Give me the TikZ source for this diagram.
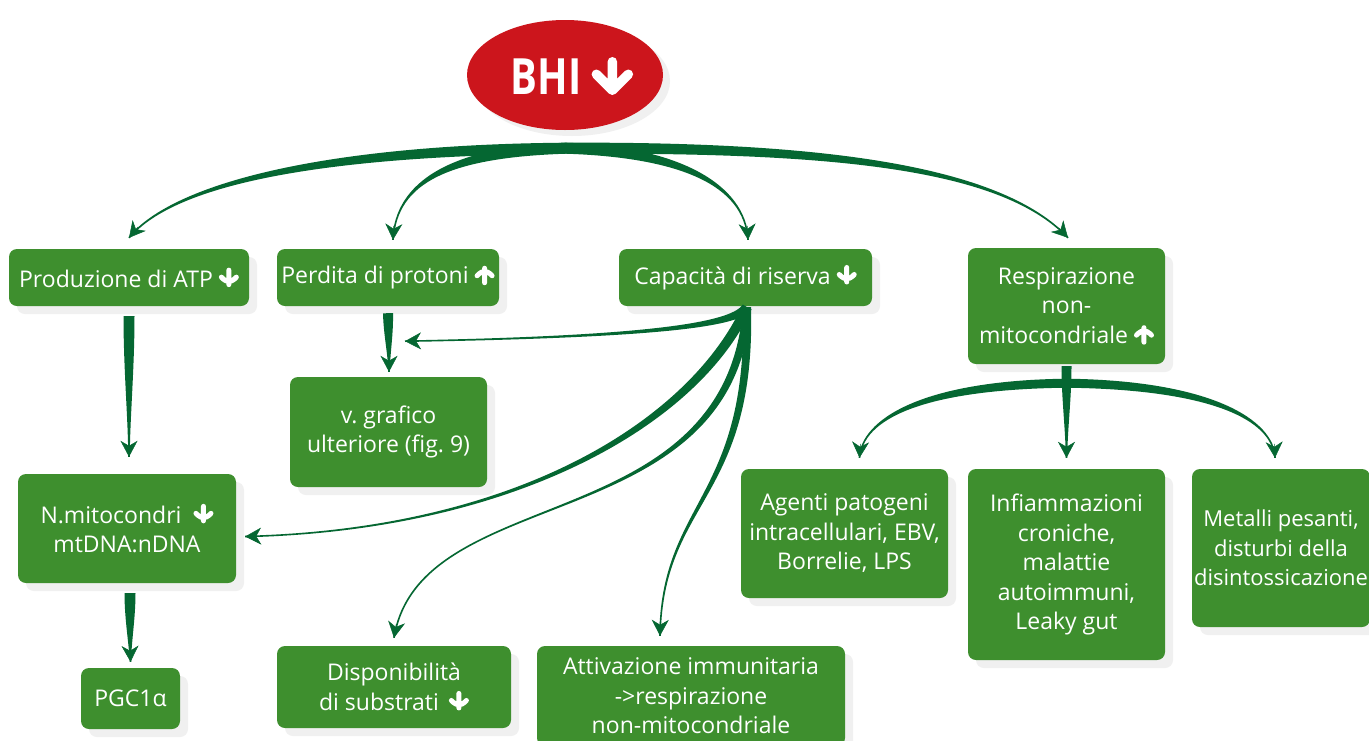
\documentclass[tikz,border=0pt]{standalone}
\usepackage{fontspec}
\setmainfont{Open Sans}
\usetikzlibrary{calc,arrows.meta,shadows,shapes.geometric}
\frenchspacing

\definecolor{arrgreen}{RGB}{5,103,50}
\definecolor{boxgreen}{RGB}{62,143,46}
\definecolor{bhired}{RGB}{204,21,28}
\definecolor{shadowgray}{RGB}{240,240,240}

\newcommand\arrdn{\tikz[baseline=0pt,x=1pt,y=1pt]\draw[white,line width=5pt,line cap=round,line join=round] (0,17)--(0,2.5) (-7.5,10)--(0,2.5)--(7.5,10);}
\newcommand\arrup{\tikz[baseline=0pt,x=1pt,y=1pt]\draw[white,line width=5pt,line cap=round,line join=round] (0,1)--(0,15.5) (-7.5,8)--(0,15.5)--(7.5,8);}
\newcommand\bigarrdn{\tikz[baseline=0pt,x=1pt,y=1pt]\draw[white,line width=9.5pt,line cap=round,line join=round] (0,33)--(0,4.5) (-16,20.5)--(0,4.5)--(16,20.5);}

% tapered arrow: #1 half width, #2 start, #3 c1, #4 c2, #5 end (tip point)
\newcommand\taper[5]{%
  \coordinate (tpS) at #2;
  \coordinate (tpA) at #3;
  \coordinate (tpB) at #4;
  \coordinate (tpE) at #5;
  \fill[arrgreen] ($(tpS)!#1!90:(tpA)$) .. controls ($(tpA)!#1!-90:(tpS)$) and ($(tpB)!0.8pt!90:(tpE)$)
     .. ($(tpE)!0.8pt!-90:(tpB)$) -- ($(tpE)!0.8pt!90:(tpB)$)
     .. controls ($(tpB)!0.8pt!-90:(tpE)$) and ($(tpA)!#1!90:(tpS)$) .. ($(tpS)!#1!-90:(tpA)$) -- cycle;
  \draw[tipline] ($(tpE)!14pt!(tpB)$) -- (tpE);}

\tikzset{
  box/.style={rectangle, rounded corners=8pt, fill=boxgreen, text=white,
    align=center, inner sep=0pt, font=\fontsize{23}{29.5}\selectfont,
    drop shadow={shadow xshift=8pt, shadow yshift=-8pt, fill=shadowgray, opacity=1}},
  tipline/.style={draw=arrgreen, line width=0.5pt,
    -{Stealth[length=16pt,width=17pt,inset=5pt]}},
}

\begin{document}
\begin{tikzpicture}[x=1pt,y=-1pt]
\fill[white] (0,0) rectangle (1369,740);
\useasboundingbox (0,0) rectangle (1369,740);

% BHI
\node[ellipse, fill=bhired, minimum width=196pt, minimum height=110pt, inner sep=0pt,
  drop shadow={shadow xshift=7pt, shadow yshift=-6pt, fill=shadowgray, opacity=1}] (bhi) at (565,75) {};
\node[text=white, inner sep=0pt, font=\fontsize{50}{52}\bfseries\selectfont] (bhit) at (572,76)
  {\scalebox{0.8}[1]{BHI}\hspace{10pt}\bigarrdn};

% boxes
\node[box, minimum width=240pt, minimum height=57pt] (atp) at (129,277.5) {Produzione di ATP \arrdn};
\node[box, minimum width=222pt, minimum height=57pt] (prot) at (388,277.5) {Perdita di protoni \arrup};
\node[box, minimum width=253pt, minimum height=57pt] (cap) at (745.5,277.5) {Capacità di riserva \arrdn};
\node[box, minimum width=197pt, minimum height=116pt] (resp) at (1066.5,306) {Respirazione\\non-\\mitocondriale \arrup};
\node[box, minimum width=197pt, minimum height=110pt] (graf) at (388.5,432) {v. grafico\\ulteriore (fig. 9)};
\node[box, minimum width=218pt, minimum height=109pt] (mito) at (127,528.5) {N.mitocondri\hspace{12pt}\arrdn\\mtDNA:nDNA};
\node[box, minimum width=99pt, minimum height=61pt] (pgc) at (130.5,698.5) {PGC1α};
\node[box, minimum width=234pt, minimum height=82pt] (disp) at (394,687) {Disponibilità\\di substrati\hspace{10pt}\arrdn};
\node[box, minimum width=308pt, minimum height=100pt] (attiv) at (691,696) {Attivazione immunitaria\\->respirazione\\non-mitocondriale};
\node[box, minimum width=207pt, minimum height=129pt] (agenti) at (844.5,533.5) {Agenti patogeni\\intracellulari, EBV,\\Borrelie, LPS};
\node[box, minimum width=197pt, minimum height=191pt] (infiam) at (1066.5,564.5) {Infiammazioni\\croniche,\\malattie\\autoimmuni,\\Leaky gut};
\node[box, minimum width=178pt, minimum height=158pt, font=\fontsize{22}{29.5}\selectfont] (metalli) at (1281,548) {Metalli pesanti,\\disturbi della\\disintossicazione};

% top arrows from BHI
\coordinate (o) at ($(bhi.south)+(1,18)$);
\taper{5.5pt}{(o)}{(330,150)}{(175,182)}{($(atp.north)+(0,-11)$)}
\taper{5.5pt}{(o)}{(450,152)}{(396,182)}{($(prot.north)+(5,-9)$)}
\taper{5.5pt}{(o)}{(680,152)}{(745,185)}{($(cap.north)+(2.5,-9)$)}
\taper{5.5pt}{(o)}{(820,147)}{(1000,165)}{($(resp.north)+(1.5,-10)$)}

% vertical arrows
\coordinate (a0) at ($(atp.south)+(0,10)$);
\taper{5.5pt}{(a0)}{(129,370)}{(129,420)}{($(mito.north)+(2,-17)$)}
\coordinate (p0) at ($(prot.south)+(0,7)$);
\taper{5pt}{(p0)}{(388.5,335)}{(389,355)}{($(graf.north)+(0.5,-5)$)}
\coordinate (m0) at ($(mito.south)+(3,10)$);
\taper{5.5pt}{(m0)}{(130,620)}{(130,645)}{($(pgc.north)+(0,-6)$)}

% from Capacità di riserva
\coordinate (c0) at ($(cap.south)+(1.5,1)$);
\coordinate (ta) at ($(p0)+(17,28)$);
\taper{5pt}{(c0)}{(735,326)}{(640,337)}{(ta)}
\taper{5pt}{(c0)}{(695,420)}{(520,530)}{($(mito.east)+(9,8)$)}
\taper{4pt}{(c0)}{(730,540)}{(420,480)}{($(disp.north)+(0,-8)$)}
\taper{4pt}{(c0)}{(752,500)}{(662,500)}{($(attiv.north)+(-31,-10)$)}

% from Respirazione non-mitocondriale
\coordinate (r0) at ($(resp.south)+(0,19)$);
\coordinate (r1) at ($(resp.south)+(0,2)$);
\taper{4.5pt}{(r0)}{(920,385)}{(862,420)}{($(agenti.north)+(15,-11)$)}
\taper{4.5pt}{(r0)}{(1212,385)}{(1273,420)}{($(metalli.north)+(-6,-11)$)}
\taper{5pt}{(r1)}{(1066.5,400)}{(1066.5,430)}{($(infiam.north)+(0,-11)$)}
\end{tikzpicture}
\end{document}
